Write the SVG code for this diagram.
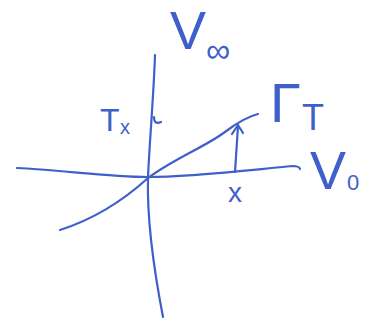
<svg xmlns="http://www.w3.org/2000/svg" width="368" height="327" viewBox="0 0 368 327">
<style>
.ln{fill:none;stroke:#3f5fcb;stroke-width:2.2;stroke-linecap:round;stroke-linejoin:round}
.lb{fill:#3f5fcb;font-family:"Liberation Sans",Arial,sans-serif}
</style>
<rect width="368" height="327" fill="#fff"/>
<g id="axes">
<path id="v-axis" class="ln" d="M155,55 C154,90 149,150 148,178 C147,215 152,260 163,317"/>
<path id="h-axis" class="ln" d="M17,168 C60,170 110,177 148,177 C190,177 240,171 293,166 Q299,166 300,169"/>
<path id="tick" class="ln" d="M154,117 Q154,125 161,122"/>
</g>
<g id="curve">
<path class="ln" d="M60,230 C85,222 115,208 148,178 C175,158 205,147 225,132 C238,122 250,116 258,114"/>
</g>
<g id="connectors">
<path class="ln" d="M235,172 L238,126"/>
<path class="ln" d="M232,134 L238,125 L243,133"/>
</g>
<g id="label-Vinf"><text class="lb" x="170" y="49" font-size="54">V</text><text class="lb" x="206" y="62" font-size="34">∞</text></g>
<g id="label-GammaT"><text class="lb" x="270" y="122" font-size="56">Γ</text><text class="lb" x="302" y="130" font-size="36">T</text></g>
<g id="label-V0"><text class="lb" x="310" y="189" font-size="54">V</text><text class="lb" x="347" y="190" font-size="22">0</text></g>
<g id="label-Tx"><text class="lb" x="100" y="131" font-size="32">T</text><text class="lb" x="120" y="134" font-size="20">x</text></g>
<g id="label-x"><text class="lb" x="228" y="202" font-size="28">x</text></g>
</svg>
